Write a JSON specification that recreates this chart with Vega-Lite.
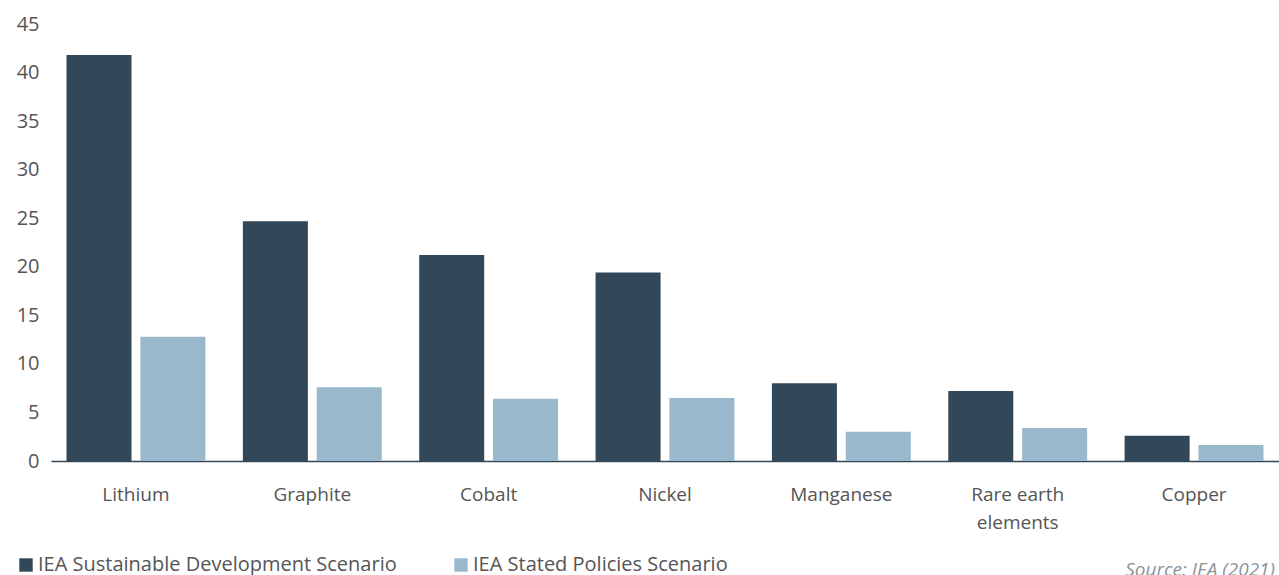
{
  "$schema": "https://vega.github.io/schema/vega-lite/v6.json",
  "width": 1228,
  "height": 437,
  "autosize": "none",
  "padding": {"left": 51, "top": 24, "right": 0, "bottom": 114},
  "background": "white",
  "config": {
    "view": {"stroke": null},
    "font": "Open Sans",
    "axis": {"labelFont": "Open Sans", "labelColor": "#555555", "labelFontSize": 19, "grid": false},
    "legend": {"labelFont": "Open Sans", "labelColor": "#555555", "labelFontSize": 20}
  },
  "title": {
    "text": "Source: IEA (2021)",
    "orient": "bottom",
    "anchor": "end",
    "font": "Open Sans",
    "fontStyle": "italic",
    "fontWeight": "normal",
    "fontSize": 19,
    "color": "#8a949c",
    "dx": -4,
    "offset": -14
  },
  "data": {
    "values": [
      {"mineral": "Lithium", "scenario": "IEA Sustainable Development Scenario", "value": 41.8},
      {"mineral": "Lithium", "scenario": "IEA Stated Policies Scenario", "value": 12.8},
      {"mineral": "Graphite", "scenario": "IEA Sustainable Development Scenario", "value": 24.7},
      {"mineral": "Graphite", "scenario": "IEA Stated Policies Scenario", "value": 7.6},
      {"mineral": "Cobalt", "scenario": "IEA Sustainable Development Scenario", "value": 21.2},
      {"mineral": "Cobalt", "scenario": "IEA Stated Policies Scenario", "value": 6.4},
      {"mineral": "Nickel", "scenario": "IEA Sustainable Development Scenario", "value": 19.4},
      {"mineral": "Nickel", "scenario": "IEA Stated Policies Scenario", "value": 6.5},
      {"mineral": "Manganese", "scenario": "IEA Sustainable Development Scenario", "value": 8.0},
      {"mineral": "Manganese", "scenario": "IEA Stated Policies Scenario", "value": 3.0},
      {"mineral": "Rare earth elements", "scenario": "IEA Sustainable Development Scenario", "value": 7.2},
      {"mineral": "Rare earth elements", "scenario": "IEA Stated Policies Scenario", "value": 3.4},
      {"mineral": "Copper", "scenario": "IEA Sustainable Development Scenario", "value": 2.6},
      {"mineral": "Copper", "scenario": "IEA Stated Policies Scenario", "value": 1.65}
    ]
  },
  "mark": {"type": "bar"},
  "encoding": {
    "x": {
      "field": "mineral",
      "type": "nominal",
      "sort": null,
      "title": null,
      "scale": {"paddingInner": 0.2125, "paddingOuter": 0.088},
      "axis": {
        "labelAngle": 0,
        "ticks": false,
        "domainColor": "#324858",
        "domainWidth": 1.5,
        "labelPadding": 24,
        "labelLineHeight": 28,
        "labelExpr": "datum.label == 'Rare earth elements' ? ['Rare earth', 'elements'] : datum.label"
      }
    },
    "xOffset": {
      "field": "scenario",
      "type": "nominal",
      "sort": ["IEA Sustainable Development Scenario", "IEA Stated Policies Scenario"],
      "scale": {"paddingInner": 0.12, "paddingOuter": 0}
    },
    "y": {
      "field": "value",
      "type": "quantitative",
      "title": null,
      "scale": {"domain": [0, 45], "nice": false},
      "axis": {"values": [0, 5, 10, 15, 20, 25, 30, 35, 40, 45], "domain": false, "ticks": false, "labelPadding": 12, "labelFontSize": 20}
    },
    "color": {
      "field": "scenario",
      "type": "nominal",
      "title": null,
      "scale": {
        "domain": ["IEA Sustainable Development Scenario", "IEA Stated Policies Scenario"],
        "range": ["#324858", "#9ab8cc"]
      },
      "legend": {
        "orient": "none",
        "legendX": -35,
        "legendY": 531,
        "direction": "horizontal",
        "symbolType": "square",
        "symbolSize": 180,
        "symbolStrokeWidth": 0,
        "columnPadding": 54,
        "labelOffset": 2,
        "labelLimit": 0
      }
    }
  }
}
